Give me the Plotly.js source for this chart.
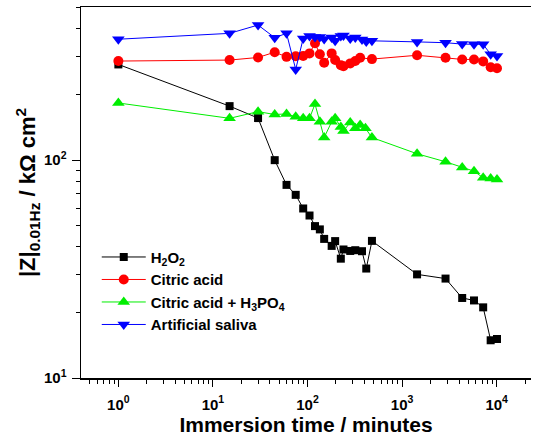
<!DOCTYPE html>
<html>
<head>
<meta charset="utf-8">
<script src="https://cdn.plot.ly/plotly-3.0.1.min.js"></script>
<style>html,body{margin:0;padding:0;background:#fff;}#chart{width:533px;height:436px;}</style>
</head>
<body>
<div id="chart"></div>
<script>
// Immersion times (minutes)
const tH2O2 = [1, 15, 30, 45, 60, 75, 90, 105, 120, 135, 150, 180, 196, 225, 240, 283, 320, 377, 418, 480, 1440, 2880, 4320, 5760, 7200, 8640, 10080];
const zH2O2 = [275, 177, 156, 100, 77, 69.3, 60, 55.7, 49.8, 48.1, 43.5, 40.4, 42.5, 35.3, 38.9, 38.3, 38.6, 38.2, 31.8, 42.6, 29.9, 28.6, 23.3, 22.7, 21.1, 14.9, 15.1];

const tCitric = [1, 15, 30, 45, 60, 75, 90, 105, 120, 135, 150, 180, 196, 225, 240, 283, 320, 360, 480, 1440, 2880, 4320, 5760, 7200, 8640, 10080];
const zCitric = [285, 288, 296, 313, 298, 300, 301, 309, 344, 306, 280, 309, 288, 273, 270, 278, 285, 295, 291, 303, 295, 290, 290, 284, 267, 264];

const tCitricH3PO4 = [1, 15, 30, 45, 60, 75, 90, 105, 120, 135, 150, 180, 196, 225, 240, 283, 320, 360, 410, 480, 1440, 2880, 4320, 5760, 7200, 8640, 10080];
const zCitricH3PO4 = [183, 155.6, 167, 162, 163, 158, 155.6, 155.6, 181, 150, 127, 150, 155.6, 142, 136, 149, 140, 145, 140, 127, 107, 98.3, 92.6, 89, 83, 82.4, 81.5];

const tSaliva = [1, 15, 30, 45, 60, 75, 90, 105, 120, 135, 150, 180, 196, 225, 240, 283, 320, 377, 418, 480, 1440, 2880, 4320, 5760, 7200, 8640, 10080];
const zSaliva = [359, 382, 417, 365, 382, 261, 362, 371, 368, 368, 360, 366, 353, 371, 373, 362, 366, 358, 350, 353, 349, 346, 341, 340, 340, 306, 301];

const seriesNames = ['H<sub>2</sub>O<sub>2</sub>', 'Citric acid', 'Citric acid + H<sub>3</sub>PO<sub>4</sub>', 'Artificial saliva'];
const xTickVals = [1, 10, 100, 1000, 10000];
const xTickText = ['10<sup>0</sup>', '10<sup>1</sup>', '10<sup>2</sup>', '10<sup>3</sup>', '10<sup>4</sup>'];
const yTickVals = [10, 100];
const yTickText = ['10<sup>1</sup>', '10<sup>2</sup>'];

const font = 'Liberation Sans, Arial, sans-serif';

const traces = [
  {x: tH2O2, y: zH2O2, name: seriesNames[0], mode: 'lines+markers',
   line: {color: '#000000', width: 1}, marker: {symbol: 'square', size: 8, color: '#000000'}},
  {x: tCitric, y: zCitric, name: seriesNames[1], mode: 'lines+markers',
   line: {color: '#ff0000', width: 1}, marker: {symbol: 'circle', size: 10, color: '#ff0000'}},
  {x: tCitricH3PO4, y: zCitricH3PO4, name: seriesNames[2], mode: 'lines+markers',
   line: {color: '#00ee00', width: 1}, marker: {symbol: 'triangle-up', size: 11, color: '#00ee00'}},
  {x: tSaliva, y: zSaliva, name: seriesNames[3], mode: 'lines+markers',
   line: {color: '#0000ff', width: 1}, marker: {symbol: 'triangle-down', size: 11, color: '#0000ff'}}
];

const layout = {
  width: 533, height: 436,
  margin: {l: 81, r: 2, t: 7, b: 58},
  paper_bgcolor: '#ffffff', plot_bgcolor: '#ffffff',
  font: {family: font, color: '#000'},
  showlegend: true,
  legend: {x: 0.035, y: 0.37, xanchor: 'left', yanchor: 'top', bgcolor: 'rgba(0,0,0,0)',
           font: {family: font, size: 15, color: '#000', weight: 'bold'}, tracegroupgap: 0, itemwidth: 44},
  xaxis: {
    type: 'log', range: [-0.395, 4.363],
    tickvals: xTickVals, ticktext: xTickText,
    ticks: 'outside', ticklen: 7, tickwidth: 1, tickcolor: '#000',
    minor: {ticks: 'outside', ticklen: 4, tickwidth: 1, tickcolor: '#000', dtick: 'D1'},
    showline: true, linecolor: '#000', linewidth: 1.5, mirror: true,
    showgrid: false, zeroline: false, ticklabelstandoff: 5,
    tickfont: {family: font, size: 15, color: '#000', weight: 'bold'},
    title: {text: 'Immersion time / minutes', font: {family: font, size: 21, color: '#000', weight: 'bold'}, standoff: 6}
  },
  yaxis: {
    type: 'log', range: [1, 2.703],
    tickvals: yTickVals, ticktext: yTickText,
    ticks: 'outside', ticklen: 8, tickwidth: 1, tickcolor: '#000',
    minor: {ticks: 'outside', ticklen: 4, tickwidth: 1, tickcolor: '#000', dtick: 'D1'},
    showline: true, linecolor: '#000', linewidth: 1.5, mirror: false,
    showgrid: false, zeroline: false, ticklabelstandoff: 2,
    tickfont: {family: font, size: 15, color: '#000', weight: 'bold'},
    title: {text: '|Z|<sub>0.01Hz</sub> / kΩ cm<sup>2</sup>', font: {family: font, size: 22, color: '#000', weight: 'bold'}, standoff: 2}
  }
};

Plotly.newPlot('chart', traces, layout, {displayModeBar: false, staticPlot: true});
</script>
</body>
</html>
